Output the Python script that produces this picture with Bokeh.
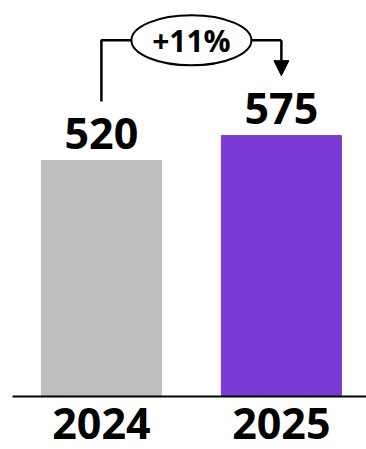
from bokeh.plotting import figure
from bokeh.models import Range1d, FixedTicker, ColumnDataSource, Arrow, NormalHead
from bokeh.core.properties import value
from bokeh.embed import file_html
from bokeh.resources import INLINE

categories = ["2024", "2025"]
values = [520, 575]
colors = ["#BFBFBF", "#7B3AD6"]
change_label = "+11%"

xs = [0.5, 1.5]
labels = [str(v) for v in values]

p = figure(width=366, height=449, output_backend="svg", toolbar_location=None,
           x_range=Range1d(0.006, 1.973), y_range=Range1d(0, 855),
           min_border_left=12, min_border_right=0, min_border_top=8, min_border_bottom=53)
p.outline_line_color = None
p.xgrid.visible = False
p.ygrid.visible = False
p.yaxis.visible = False
p.background_fill_color = "white"
p.border_fill_color = "white"

label_y = [v + 60 for v in values]
src = ColumnDataSource(dict(x=xs, top=values, color=colors, label=labels, ly=label_y))
p.vbar(x="x", top="top", width=0.667, bottom=0, color="color", source=src)

p.text(x="x", y="ly", text="label", source=src, text_align="center",
       text_baseline="alphabetic", text_font=value("Open Sans"),
       text_font_style="bold", text_font_size="43px", text_color="black")

# bracket
top_max = max(values)
bracket_y = top_max * 1.365
left_bottom = values[0] + 130
arrow_tip = values[1] + 132
p.line(x=[xs[0], xs[0], xs[1]], y=[left_bottom, bracket_y, bracket_y], line_color="black", line_width=2.5)
p.add_layout(Arrow(end=NormalHead(size=15, fill_color="black", line_color="black"),
                   x_start=xs[1], y_start=bracket_y, x_end=xs[1], y_end=arrow_tip,
                   line_color="black", line_width=2.5))
mid = (xs[0] + xs[1]) / 2
p.ellipse(x=[mid], y=[bracket_y], width=[120], height=[50], width_units="screen", height_units="screen",
          fill_color="white", line_color="black", line_width=2)
p.text(x=[mid], y=[bracket_y], text=[change_label], text_align="center", text_baseline="middle",
       text_font=value("Open Sans"), text_font_style="bold", text_font_size="30px", text_color="black")

p.xaxis.ticker = FixedTicker(ticks=xs)
p.xaxis.major_label_overrides = {xs[i]: categories[i] for i in range(len(xs))}
p.xaxis.major_tick_line_color = None
p.xaxis.minor_tick_line_color = None
p.xaxis.major_tick_out = 0
p.xaxis.major_tick_in = 0
p.xaxis.axis_line_color = "black"
p.xaxis.axis_line_width = 2
p.xaxis.major_label_standoff = 11
p.xaxis.major_label_text_font = "Open Sans"
p.xaxis.major_label_text_font_style = "bold"
p.xaxis.major_label_text_font_size = "43px"
p.xaxis.major_label_text_color = "black"

open("out.html", "w").write(file_html(p, INLINE))
